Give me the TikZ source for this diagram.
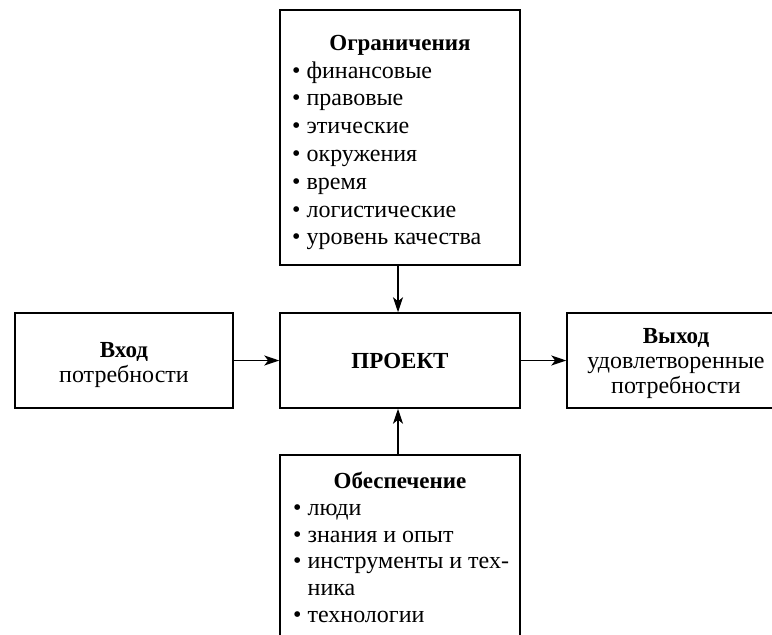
\documentclass[tikz,border=0pt]{standalone}
\usepackage{fontspec}
\setmainfont{Liberation Serif}
\usetikzlibrary{arrows.meta}
\begin{document}
\begin{tikzpicture}[x=1pt,y=-1pt,
  box/.style={draw=black,line width=1.5pt,rectangle,inner sep=0pt},
  txt/.style={inner sep=0pt,anchor=base,font=\fontsize{24}{26}\selectfont},
  itm/.style={inner sep=0pt,anchor=base west,font=\fontsize{24}{26}\selectfont},
  ttl/.style={txt,font=\fontsize{23}{26}\selectfont\bfseries},
  arr/.style={line width=1.4pt,-{Stealth[length=15pt,width=10pt,inset=4pt]}}]
\useasboundingbox (0,0) rectangle (772,635);
\clip (0,0) rectangle (772,635);
% boxes
\node[box,minimum width=240pt,minimum height=255pt] (top) at (400,137.5) {};
\node[box,minimum width=218pt,minimum height=95pt] (left) at (124,360.5) {};
\node[box,minimum width=240pt,minimum height=95pt] (proj) at (400,360.5) {};
\node[box,minimum width=218pt,minimum height=95pt] (right) at (676,360.5) {};
\node[box,minimum width=240pt,minimum height=240pt] (bot) at (400,575) {};
% arrows
\draw[arr] (top.south -| 398,0) -- (proj.north -| 398,0);
\draw[arr] (bot.north -| 398,0) -- (proj.south -| 398,0);
\draw[arr] (left.east) -- (proj.west);
\draw[arr] (proj.east) -- (right.west);
% top text
\node[ttl] (t0) at (400,50.5) {Ограничения};
\node[itm] (t1) at (292,78) {• финансовые};
\node[itm] (t2) at (292,105.8) {• правовые};
\node[itm] (t3) at (292,133.6) {• этические};
\node[itm] (t4) at (292,161.4) {• окружения};
\node[itm] (t5) at (292,189.2) {• время};
\node[itm] (t6) at (292,217) {• логистические};
\node[itm] (t7) at (292,244.8) {• уровень качества};
% left
\node[ttl] (l0) at (124,357.5) {Вход};
\node[txt] (l1) at (124,382) {потребности};
% center
\node[ttl] (p0) at (400,368) {ПРОЕКТ};
% right
\node[ttl] (r0) at (676,343) {Выход};
\node[txt] (r1) at (676,368) {удовлетворенные};
\node[txt] (r2) at (676,393) {потребности};
% bottom
\node[ttl] (b0) at (400,488) {Обеспечение};
\node[itm] (b1) at (293,515) {• люди};
\node[itm] (b2) at (293,542) {• знания и опыт};
\node[itm] (b3) at (293,568.5) {• инструменты и тех-};
\node[itm] (b4) at (307.5,595) {ника};
\node[itm] (b5) at (293,622) {• технологии};
\end{tikzpicture}
\end{document}
